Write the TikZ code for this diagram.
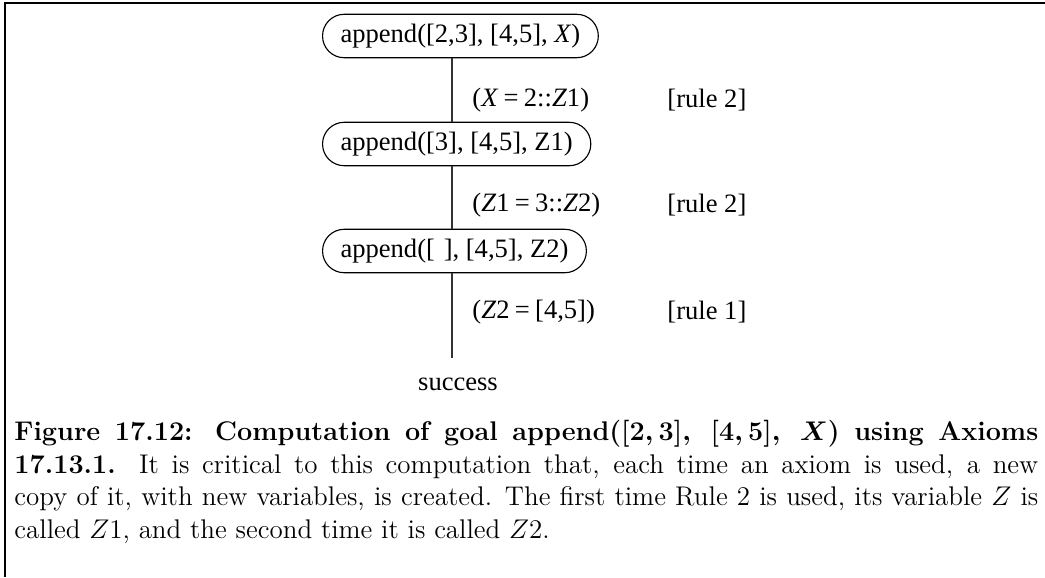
\documentclass[tikz,border=0pt]{standalone}
\usepackage{fontspec}
\newfontfamily\timesfont{Liberation Serif}
\usepackage{tikz}

\newcommand{\eqsp}{\hspace{0.2em}=\hspace{0.2em}}

\begin{document}
\begin{tikzpicture}[
    x=0.4444pt, y=-0.4444pt,
    goal/.style={draw=black, line width=0.5pt, rectangle, rounded corners=9.6pt,
        minimum height=19.3pt, inner xsep=8pt, inner ysep=0pt, anchor=west,
        font=\timesfont\fontsize{11.8}{14}\selectfont},
    subst/.style={anchor=west, inner sep=0pt, font=\timesfont\fontsize{11.8}{14}\selectfont},
    link/.style={line width=0.5pt, black!80}
]
\useasboundingbox (0,0) rectangle (1045,577);

% Frame
\draw[line width=1.1pt] (1045,3) -- (5,3) -- (5,577);

% Goals
\node[goal] (g1) at (322,36) {append([2,3], [4,5], \textit{X})};
\node[goal] (g2) at (322,144) {append([3], [4,5], Z1)};
\node[goal] (g3) at (322,251) {append([\,\,], [4,5], Z2)};
\node[subst, anchor=center] (done) at (458,384) {success};

\coordinate (axis) at (452,0);
\coordinate (stop) at (452,358);

% Connections
\foreach \a/\b in {g1/g2, g2/g3} {
    \draw[link] (\a.south -| axis) -- (\b.north -| axis);
}
\draw[link] (g3.south -| axis) -- (stop);

% Substitutions and rules
\node[subst] (s1) at (472,100) {(\textit{X}\eqsp 2::\textit{Z}1)};
\node[subst] (s2) at (472,205) {(\textit{Z}1\eqsp 3::\textit{Z}2)};
\node[subst] (s3) at (472,312) {(\textit{Z}2\eqsp [4,5])};
\foreach \i/\y/\r in {1/100/2, 2/205/2, 3/312/1} {
    \node[subst] (r\i) at (667,\y) {[rule \r]};
}

% Caption
\node[anchor=north west, inner sep=0pt, text width=455pt, align=justify] (cap) at (14,420)
  {\fontsize{12}{14.5}\selectfont
   {\bfseries\boldmath Figure 17.12: Computation of goal append$([2,3],\ [4,5],\ X)$ using Axioms\linebreak
   17.13.1.} It is critical to this computation that, each time an axiom is used, a new\linebreak
   copy of it, with new variables, is created. The first time Rule 2 is used, its variable $Z$ is\linebreak
   called $Z1$, and the second time it is called $Z2$.\par};
\end{tikzpicture}
\end{document}
